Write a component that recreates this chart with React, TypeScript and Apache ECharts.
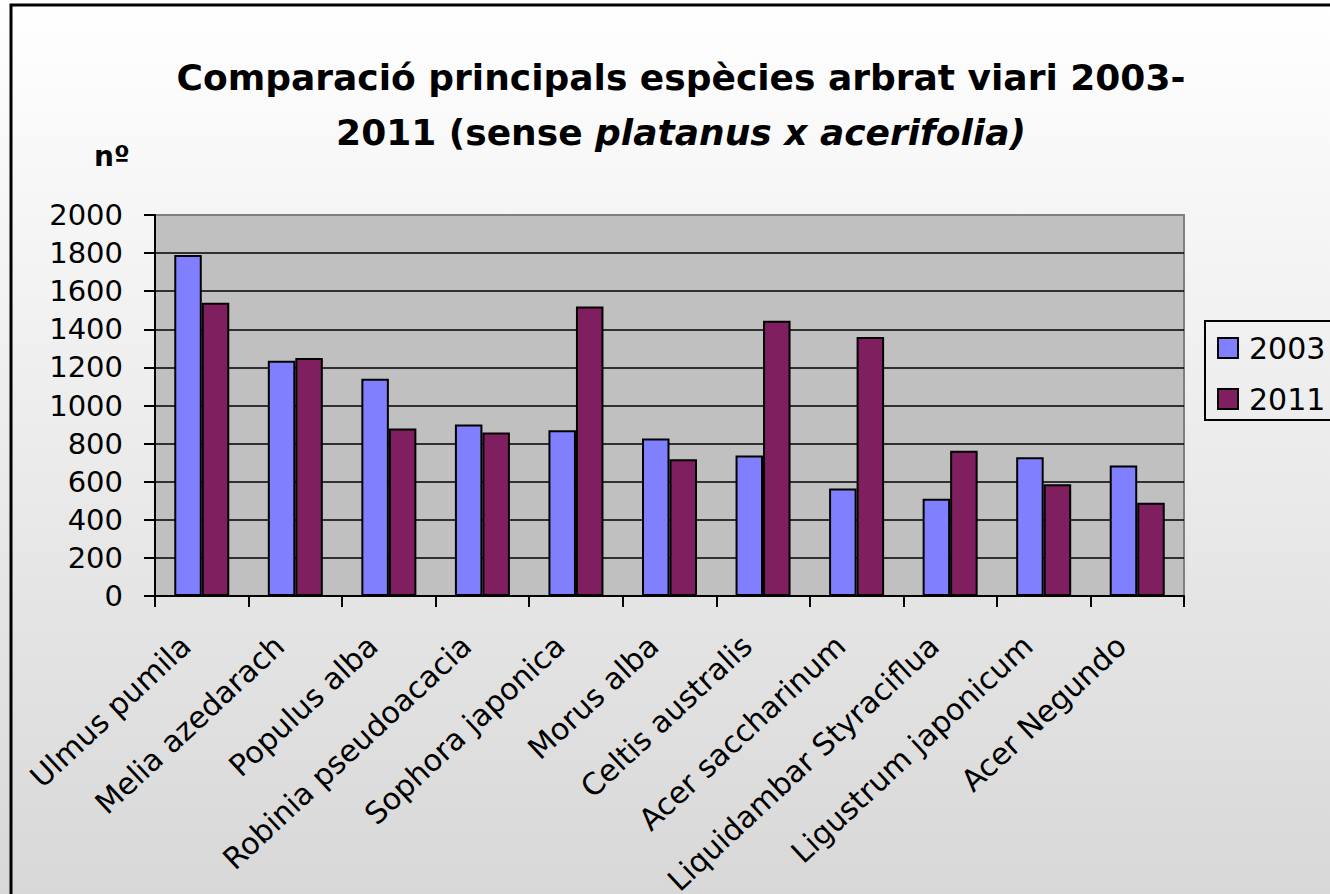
import React, { useEffect, useRef } from "react";
import * as echarts from "echarts";

const categories = [
  "Ulmus pumila",
  "Melia azedarach",
  "Populus alba",
  "Robinia pseudoacacia",
  "Sophora japonica",
  "Morus alba",
  "Celtis australis",
  "Acer saccharinum",
  "Liquidambar Styraciflua",
  "Ligustrum japonicum",
  "Acer Negundo",
];
const values2003 = [1790, 1235, 1140, 900, 870, 827, 738, 564, 510, 729, 685];
const values2011 = [1540, 1250, 879, 858, 1520, 718, 1445, 1359, 762, 587, 489];
const seriesNames = ["2003", "2011"];
const yTicks = { min: 0, max: 2000, interval: 200 };

const FONT = "'DejaVu Sans', Arial, sans-serif";

export default function App() {
  const ref = useRef<HTMLDivElement>(null);
  useEffect(() => {
    document.body.style.margin = "0";
    const chart = echarts.init(ref.current!, null, { renderer: "svg" });
    chart.setOption({
      animation: false,
      backgroundColor: new echarts.graphic.LinearGradient(0, 0, 0, 1, [
        { offset: 0, color: "#ffffff" },
        { offset: 1, color: "#d8d8d8" },
      ]),
      title: {
        text: "Comparació principals espècies arbrat viari 2003-\n2011 (sense {i|platanus x acerifolia)}",
        left: 676,
        top: 45,
        textAlign: "center",
        textStyle: {
          fontFamily: FONT,
          fontSize: 36,
          fontWeight: "bold",
          color: "#000",
          lineHeight: 55,
          rich: {
            i: {
              fontFamily: FONT,
              fontSize: 36,
              fontWeight: "bold",
              fontStyle: "italic",
              color: "#000",
              lineHeight: 55,
            },
          },
        },
      },
      graphic: [
        {
          type: "rect",
          shape: { x: 11, y: 5, width: 1400, height: 1000 },
          style: { fill: "none", stroke: "#000", lineWidth: 3 },
          z: 100,
        },
        {
          type: "text",
          x: 94,
          y: 156,
          style: {
            text: "nº",
            font: `bold 28px ${FONT}`,
            fill: "#000",
            textVerticalAlign: "middle",
          },
        },
      ],
      legend: {
        orient: "vertical",
        left: 1205,
        top: 321,
        padding: [12, 12, 6, 12],
        itemWidth: 20,
        itemHeight: 20,
        itemGap: 21,
        borderColor: "#000",
        borderWidth: 2,
        icon: "rect",
        textStyle: {
          fontFamily: FONT,
          fontSize: 30,
          color: "#000",
          padding: [0, 0, 0, 6],
        },
        data: seriesNames,
      },
      grid: {
        left: 155,
        top: 215,
        right: 146,
        bottom: 298,
        outerBoundsMode: "none",
        containLabel: false,
        show: true,
        backgroundColor: "#c0c0c0",
        borderColor: "#808080",
        borderWidth: 2,
      },
      xAxis: {
        type: "category",
        data: categories,
        axisLine: { lineStyle: { color: "#000", width: 2 } },
        axisTick: { show: true, length: 11, alignWithLabel: false, lineStyle: { color: "#000", width: 2 } },
        axisLabel: {
          rotate: 43,
          interval: 0,
          margin: 30,
          padding: [0, 22, 0, 0],
          fontFamily: FONT,
          fontSize: 30,
          color: "#000",
        },
      },
      yAxis: {
        type: "value",
        min: yTicks.min,
        max: yTicks.max,
        interval: yTicks.interval,
        axisLine: { show: true, lineStyle: { color: "#000", width: 2 } },
        axisTick: { show: true, length: 11, lineStyle: { color: "#000", width: 2 } },
        axisLabel: {
          fontFamily: FONT,
          fontSize: 29,
          color: "#000",
          margin: 32,
          formatter: (v: number) => String(v),
        },
        splitLine: { show: true, showMaxLine: false, lineStyle: { color: "#000", width: 1.5 } },
      },
      series: [
        {
          name: seriesNames[0],
          type: "bar",
          data: values2003,
          barWidth: 27.5,
          barGap: "0%",
          itemStyle: { color: "#8080ff", borderColor: "#000", borderWidth: 2 },
        },
        {
          name: seriesNames[1],
          type: "bar",
          data: values2011,
          barWidth: 27.5,
          barGap: "0%",
          itemStyle: { color: "#7f1f5f", borderColor: "#000", borderWidth: 2 },
        },
      ],
    });
    return () => chart.dispose();
  }, []);
  return <div ref={ref} style={{ width: 1330, height: 894 }} />;
}
